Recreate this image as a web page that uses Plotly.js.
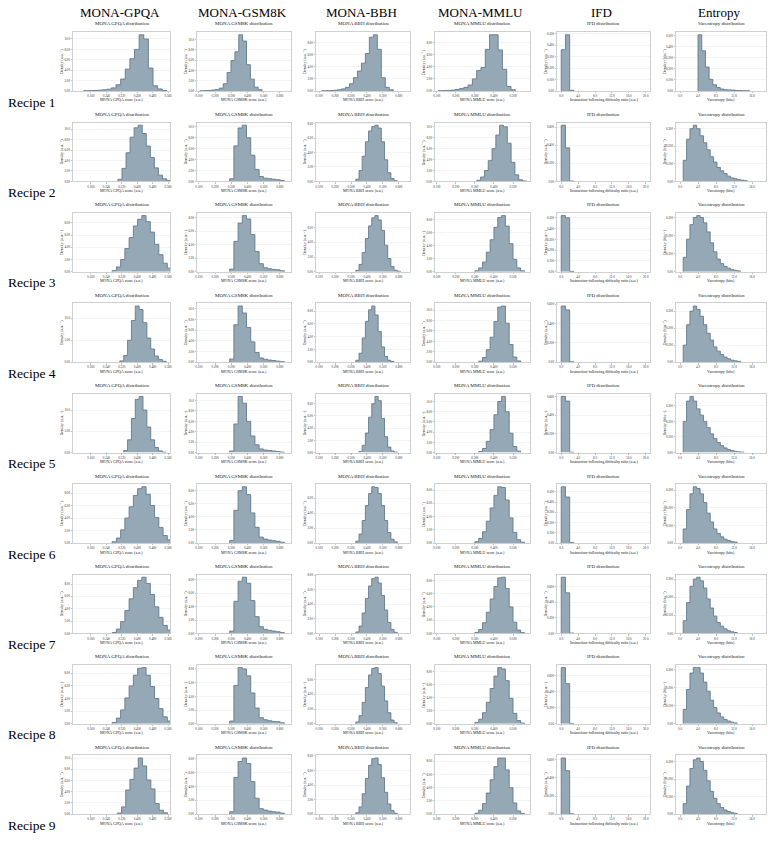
<!DOCTYPE html>
<html><head><meta charset="utf-8">
<script src="https://cdn.plot.ly/plotly-3.0.1.min.js"></script>
<style>html,body{margin:0;padding:0;background:#fff}#chart{width:776px;height:841px}</style>
</head><body><div id="chart"></div>
<script>
// ---------- labels ----------
const colHeaders = ["MONA-GPQA", "MONA-GSM8K", "MONA-BBH", "MONA-MMLU", "IFD", "Entropy"];
const rowLabels = ["Recipe 1", "Recipe 2", "Recipe 3", "Recipe 4", "Recipe 5", "Recipe 6", "Recipe 7", "Recipe 8", "Recipe 9"];
const panelTitles = ["MONA GPQA distribution", "MONA GSM8K distribution", "MONA BBH distribution", "MONA MMLU distribution", "IFD distribution", "Varentropy distribution"];
const xTitles = ["MONA GPQA score (a.u.)", "MONA GSM8K score (a.u.)", "MONA BBH score (a.u.)", "MONA MMLU score (a.u.)", "Instruction-following difficulty ratio (a.u.)", "Varentropy (bits)"];
const yTitles = ["Density (a.u.<sup>−1</sup>)", "Density (a.u.<sup>−1</sup>)", "Density (a.u.<sup>−1</sup>)", "Density (a.u.<sup>−1</sup>)", "Density (a.u.<sup>−1</sup>)", "Density (bits<sup>−1</sup>)"];

// ---------- x tick labels per column ----------
const gpqaTicks = [0.16, 0.24, 0.32, 0.40, 0.48, 0.56];
const gpqaTickText = ["0.160", "0.240", "0.320", "0.400", "0.480", "0.560"];
const gsmTicks = [0.1, 0.2, 0.3, 0.4, 0.5, 0.6];
const gsmTickText = ["0.100", "0.200", "0.300", "0.400", "0.500", "0.600"];
const bbhTicks = [0.1, 0.2, 0.3, 0.4, 0.5, 0.6];
const bbhTickText = ["0.100", "0.200", "0.300", "0.400", "0.500", "0.600"];
const mmluTicks = [0.1, 0.2, 0.3, 0.4, 0.5];
const mmluTickText = ["0.100", "0.200", "0.300", "0.400", "0.500"];
const ifdTicks = [0, 4, 8, 12, 16, 20];
const ifdTickText = ["0.0", "4.0", "8.0", "12.0", "16.0", "20.0"];
const entTicks = [0, 4, 8, 12, 16];
const entTickText = ["0.0", "4.0", "8.0", "12.0", "16.0"];

// ---------- histogram data (bin start, bin width, densities) per recipe ----------
const gpqaStart = [0.122, 0.30, 0.27, 0.31, 0.33, 0.27, 0.27, 0.27, 0.297];
const gpqaWidth = [0.024, 0.021, 0.022, 0.02, 0.02, 0.022, 0.022, 0.022, 0.0217];
const gpqaHeights = [
  [0.06,0.08,0.1,0.15,0.22,0.35,0.6,1.2,2.3,4.2,6.2,8.0,10.8,10.0,4.4,1.0,0.4,0.1],
  [0.4,2.5,5.5,8.5,10.3,10.8,9.2,6.8,4.6,2.6,1.2,0.5,0.2],
  [0.2,0.8,2.0,3.8,5.6,7.5,8.6,9.2,8.2,6.5,4.5,2.8,1.4,0.6,0.25,0.1],
  [0.3,1.5,5.0,9.5,12.8,12.0,9.0,5.5,3.0,1.4,0.6,0.2],
  [0.5,3.0,8.0,12.5,13.2,10.0,6.0,3.0,1.2,0.4,0.1],
  [0.2,0.8,2.1,4.0,5.8,7.6,8.7,9.0,7.8,6.0,4.1,2.5,1.2,0.5,0.2,0.08],
  [0.15,0.7,1.9,3.7,5.6,7.4,8.6,9.1,8.1,6.3,4.3,2.6,1.3,0.55,0.2,0.08],
  [0.2,0.9,2.2,4.1,6.0,7.7,8.8,8.9,7.7,5.9,4.0,2.4,1.1,0.45,0.18,0.07],
  [0.2,1.3,4.3,6.2,8.2,10.0,8.6,6.1,4.5,1.9,0.7,0.25]
];

const gsmStart = [0.106, 0.29, 0.29, 0.29, 0.29, 0.29, 0.29, 0.29, 0.29];
const gsmWidth = [0.024, 0.026, 0.026, 0.026, 0.026, 0.026, 0.026, 0.026, 0.026];
const gsmHeights = [
  [0.05,0.08,0.12,0.2,0.3,0.56,1.4,3.6,5.9,7.6,10.9,9.7,5.1,2.3,0.75,0.25],
  [0.5,6.5,9.8,10.3,8.0,4.8,2.2,0.9,0.6,0.5,0.4,0.3,0.15],
  [0.4,4.5,7.2,8.3,7.8,5.5,3.0,1.2,0.6,0.45,0.35,0.3,0.15],
  [0.6,7.0,10.5,9.2,6.5,3.8,1.8,0.8,0.55,0.4,0.3,0.2,0.1],
  [0.3,5.5,10.8,9.5,6.0,3.2,1.5,0.7,0.5,0.4,0.3,0.2,0.1],
  [0.4,5.0,8.0,8.6,7.4,4.6,2.4,0.9,0.6,0.45,0.35,0.25,0.12],
  [0.35,4.8,7.8,8.4,7.5,4.9,2.5,1.0,0.6,0.45,0.35,0.25,0.12],
  [0.4,5.6,8.2,8.0,7.0,4.5,2.3,0.9,0.6,0.45,0.35,0.3,0.15],
  [0.35,5.3,7.6,8.1,7.3,4.7,2.3,0.8,0.6,0.45,0.35,0.3,0.15]
];

const bbhStart = [0.115, 0.33, 0.33, 0.33, 0.35, 0.33, 0.33, 0.33, 0.33];
const bbhWidth = [0.025, 0.02, 0.02, 0.02, 0.02, 0.02, 0.02, 0.02, 0.02];
const bbhHeights = [
  [0.05,0.06,0.08,0.12,0.2,0.35,0.6,1.2,2.2,3.3,4.6,6.2,8.9,9.3,6.9,2.2,0.6,0.2],
  [0.3,1.5,3.5,5.5,7.0,7.6,7.8,7.4,5.5,3.0,1.2,0.4,0.1],
  [0.2,1.0,2.6,4.5,6.2,7.3,7.6,7.0,5.6,3.6,1.8,0.7,0.2,0.08],
  [0.3,1.4,3.8,6.4,8.2,8.8,7.4,4.8,2.4,0.9,0.3,0.1],
  [0.2,1.2,3.2,5.8,8.0,9.2,8.5,5.6,2.6,0.9,0.25,0.08],
  [0.25,1.2,3.0,5.0,6.6,7.5,7.4,6.6,5.0,3.0,1.4,0.5,0.15],
  [0.2,1.0,2.8,4.8,6.5,7.5,7.7,6.9,5.2,3.2,1.5,0.55,0.15],
  [0.25,1.1,2.9,4.9,6.6,7.5,7.6,6.8,5.1,3.1,1.5,0.5,0.15],
  [0.2,1.0,2.8,4.9,6.7,7.6,7.7,6.8,5.0,3.0,1.4,0.5,0.12]
];

const mmluStart = [0.107, 0.31, 0.30, 0.32, 0.32, 0.30, 0.30, 0.30, 0.30];
const mmluWidth = [0.0225, 0.02, 0.02, 0.02, 0.02, 0.02, 0.02, 0.02, 0.02];
const mmluHeights = [
  [0.05,0.07,0.1,0.15,0.25,0.4,0.6,1.0,2.0,3.4,3.9,6.9,9.3,9.3,6.8,3.6,0.75,0.2],
  [0.2,0.8,2.0,3.8,6.0,8.5,10.3,10.0,7.0,3.5,1.2,0.3,0.08],
  [0.15,0.6,1.5,3.0,4.9,6.8,8.3,8.6,7.0,4.3,1.9,0.6,0.15],
  [0.2,0.9,2.4,4.8,7.8,10.6,10.8,7.5,3.4,1.0,0.25],
  [0.2,0.8,2.2,4.5,7.4,10.0,11.0,8.0,3.8,1.2,0.3],
  [0.2,0.7,1.7,3.3,5.3,7.2,8.5,8.4,6.5,3.8,1.6,0.5,0.12],
  [0.15,0.6,1.6,3.2,5.2,7.1,8.4,8.5,6.8,4.0,1.7,0.5,0.12],
  [0.2,0.7,1.7,3.3,5.4,7.3,8.6,8.4,6.6,3.9,1.6,0.5,0.12],
  [0.15,0.6,1.6,3.2,5.2,7.2,8.5,8.5,6.7,4.0,1.7,0.5,0.12]
];

const ifdStart = [0, 0, 0, 0, 0, 0, 0, 0, 0];
const ifdWidth = [1, 1, 1, 1, 1, 1, 1, 1, 1];
const ifdHeights = [
  [0.36,0.49,0.006],
  [0.62,0.37,0.004],
  [0.52,0.50,0.004],
  [0.58,0.54,0.004],
  [0.60,0.55,0.004],
  [0.55,0.45,0.004],
  [0.72,0.52,0.004],
  [0.70,0.50,0.004],
  [0.62,0.48,0.004]
];

const entStart = [4.0, 0.7, 0.7, 0.7, 0.7, 0.7, 0.7, 0.7, 0.7];
const entWidth = [0.82, 0.75, 0.75, 0.75, 0.75, 0.75, 0.75, 0.75, 0.75];
const entHeights = [
  [0.51,0.365,0.218,0.106,0.056,0.032,0.018,0.012,0.01,0.008,0.005,0.004,0.003,0.002],
  [0.12,0.24,0.3,0.32,0.3,0.26,0.22,0.18,0.14,0.11,0.08,0.06,0.045,0.03,0.02,0.015,0.01,0.007,0.004],
  [0.08,0.18,0.26,0.3,0.31,0.3,0.27,0.22,0.16,0.11,0.07,0.045,0.03,0.02,0.012,0.008,0.005],
  [0.1,0.22,0.3,0.33,0.31,0.27,0.22,0.17,0.13,0.09,0.065,0.045,0.03,0.02,0.012,0.008,0.005],
  [0.2,0.33,0.36,0.33,0.28,0.24,0.2,0.16,0.12,0.09,0.065,0.045,0.03,0.02,0.013,0.008,0.005,0.003],
  [0.08,0.19,0.28,0.32,0.31,0.28,0.23,0.17,0.12,0.08,0.055,0.035,0.022,0.014,0.008,0.005],
  [0.07,0.17,0.26,0.3,0.31,0.29,0.25,0.19,0.14,0.095,0.06,0.04,0.025,0.015,0.009,0.005],
  [0.08,0.19,0.28,0.31,0.31,0.28,0.23,0.18,0.13,0.09,0.06,0.038,0.024,0.015,0.009,0.005],
  [0.06,0.16,0.26,0.31,0.32,0.3,0.25,0.19,0.13,0.09,0.06,0.038,0.024,0.015,0.009,0.005]
];

// ---------- assemble ----------
const columns = [
  {start: gpqaStart, width: gpqaWidth, heights: gpqaHeights, ticks: gpqaTicks, tickText: gpqaTickText, range: [0.067, 0.570]},
  {start: gsmStart, width: gsmWidth, heights: gsmHeights, ticks: gsmTicks, tickText: gsmTickText, range: [0.088, 0.669]},
  {start: bbhStart, width: bbhWidth, heights: bbhHeights, ticks: bbhTicks, tickText: bbhTickText, range: [0.08, 0.67]},
  {start: mmluStart, width: mmluWidth, heights: mmluHeights, ticks: mmluTicks, tickText: mmluTickText, range: [0.091, 0.589]},
  {start: ifdStart, width: ifdWidth, heights: ifdHeights, ticks: ifdTicks, tickText: ifdTickText, range: [-1, 21]},
  {start: entStart, width: entWidth, heights: entHeights, ticks: entTicks, tickText: entTickText, range: [-0.9, 19.1]}
];

const W = 776, H = 841;
const colBox = [[73,170],[197,291],[316,410],[435,530],[557,650],[676,766]];
const rowTop0 = 32, plotH = 59, rowStep = 90.4;
const SERIF = "Liberation Serif, Times New Roman, serif";
const FILL = "#95a8b6", EDGE = "#637a8b";

const traces = [];
const layout = {
  width: W, height: H,
  margin: {l: 0, r: 0, t: 0, b: 0},
  paper_bgcolor: "#ffffff", plot_bgcolor: "#ffffff",
  showlegend: false,
  font: {family: SERIF, color: "#222"},
  annotations: []
};

for (let r = 0; r < 9; r++) {
  for (let c = 0; c < 6; c++) {
    const k = r * 6 + c + 1;
    const sfx = k === 1 ? "" : String(k);
    const col = columns[c];
    const h = col.heights[r];
    const s = col.start[r], w = col.width[r];
    const xs = [s], ys = [0];
    for (let i = 0; i < h.length; i++) { xs.push(s + i * w); ys.push(h[i]); }
    xs.push(s + h.length * w); ys.push(0);
    traces.push({
      type: "scatter", mode: "lines", x: xs, y: ys,
      xaxis: "x" + sfx, yaxis: "y" + sfx,
      line: {shape: "hv", color: EDGE, width: 0.9},
      fill: "tozeroy", fillcolor: FILL, hoverinfo: "skip"
    });
    const top = rowTop0 + r * rowStep, bot = top + plotH;
    const [L, R] = colBox[c];
    const ymax = Math.max(...h);
    layout["xaxis" + sfx] = {
      domain: [L / W, R / W], anchor: "y" + sfx,
      range: col.range, tickvals: col.ticks, ticktext: col.tickText,
      showgrid: false, zeroline: false,
      showline: true, mirror: true, linecolor: "#c4c4c4", linewidth: 0.8,
      ticks: "outside", ticklen: 1.5, tickwidth: 0.5, tickcolor: "#888",
      tickfont: {family: SERIF, size: 3.2, color: "#333"}
    };
    layout["yaxis" + sfx] = {
      domain: [1 - bot / H, 1 - top / H], anchor: "x" + sfx,
      range: [0, ymax * 1.05], nticks: 6, tickformat: ".3r",
      showgrid: true, gridcolor: "#ececec", gridwidth: 0.6, zeroline: false,
      showline: true, mirror: true, linecolor: "#c4c4c4", linewidth: 0.8,
      ticks: "outside", ticklen: 1.5, tickwidth: 0.5, tickcolor: "#888",
      tickfont: {family: SERIF, size: 3.2, color: "#333"}
    };
    // panel title
    layout.annotations.push({
      xref: "paper", yref: "paper", x: (L + R) / 2 / W, y: 1 - (top - 8) / H,
      xanchor: "center", yanchor: "middle", showarrow: false,
      text: panelTitles[c], font: {family: SERIF, size: 5, color: "#222"}
    });
    // x axis title
    layout.annotations.push({
      xref: "paper", yref: "paper", x: (L + R) / 2 / W, y: 1 - (bot + 9) / H,
      xanchor: "center", yanchor: "middle", showarrow: false,
      text: xTitles[c], font: {family: SERIF, size: 4, color: "#222"}
    });
    // y axis title
    layout.annotations.push({
      xref: "paper", yref: "paper", x: (L - 11.5) / W, y: 1 - (top + bot) / 2 / H,
      xanchor: "center", yanchor: "middle", showarrow: false, textangle: -90,
      text: yTitles[c], font: {family: SERIF, size: 4, color: "#222"}
    });
  }
}

// column headers
for (let c = 0; c < 6; c++) {
  const [L, R] = colBox[c];
  layout.annotations.push({
    xref: "paper", yref: "paper", x: (L + R) / 2 / W - 2 / W, y: 1 - 12 / H,
    xanchor: "center", yanchor: "middle", showarrow: false,
    text: colHeaders[c], font: {family: SERIF, size: 13, color: "#000"}
  });
}
// row labels
for (let r = 0; r < 9; r++) {
  layout.annotations.push({
    xref: "paper", yref: "paper", x: 6 / W, y: 1 - (102 + r * rowStep) / H,
    xanchor: "left", yanchor: "middle", showarrow: false,
    text: rowLabels[r], font: {family: SERIF, size: 13.5, color: "#000"}
  });
}

Plotly.newPlot("chart", traces, layout, {staticPlot: true, displayModeBar: false});
</script></body></html>
